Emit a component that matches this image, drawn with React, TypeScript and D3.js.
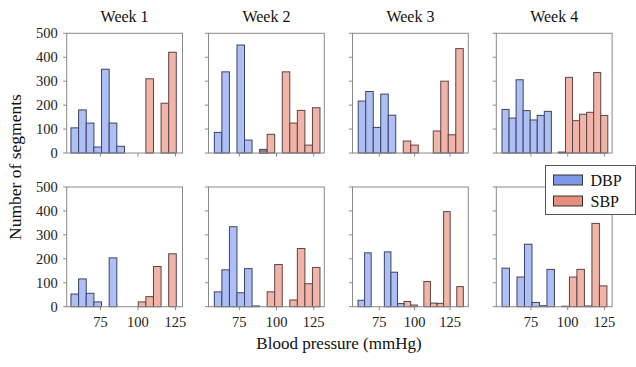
import React from 'react';
import * as d3 from 'd3';

// panel order: row-major, top row then bottom row, Week 1..4
const weeks = ["Week 1", "Week 2", "Week 3", "Week 4"];
const yTicks = [0, 100, 200, 300, 400, 500];
const xTicks = [75, 100, 125];
const xDomains = [[52.5, 129.7], [54.3, 132.1], [56.1, 137.9], [51.4, 130.2]];

const dbpStart = [55.33, 58.22, 60.15, 55.27, 55.33, 58.22, 60.0, 55.27];
const dbpWidth = [5.1, 5.07, 5.3, 4.8, 5.1, 5.07, 4.65, 5.1];
const dbpCounts = [
  [105, 180, 125, 25, 350, 125, 28],
  [86, 339, 0, 451, 54, 0, 15],
  [217, 257, 107, 246, 158],
  [182, 146, 306, 177, 138, 157, 174],
  [53, 116, 56, 20, 0, 204],
  [62, 154, 334, 58, 159, 3],
  [27, 225, 0, 0, 229, 144, 13],
  [161, 0, 124, 261, 18, 4, 156],
];

const sbpStart = [100.2, 88.64, 91.95, 93.67, 100.2, 88.64, 92.55, 96.07];
const sbpWidth = [5.07, 5.07, 5.3, 4.8, 5.07, 5.07, 4.65, 5.1];
const sbpCounts = [
  [0, 310, 0, 208, 421],
  [8, 78, 0, 339, 125, 178, 33, 189],
  [50, 33, 0, 0, 92, 300, 76, 436],
  [4, 316, 135, 162, 170, 336, 157],
  [20, 42, 168, 0, 221],
  [0, 62, 176, 0, 28, 243, 96, 164],
  [22, 7, 0, 105, 15, 14, 397, 0, 84],
  [2, 124, 156, 3, 348, 87],
];

const series = [
  { name: "DBP", fill: "#adbff4", edge: "#3d4463", swatch: "#7f98e6" },
  { name: "SBP", fill: "#f2b3a8", edge: "#5a4645", swatch: "#e88e7e" },
];

const font = "'Liberation Serif', 'DejaVu Serif', serif";
const colLeft = [66.7, 208.5, 352.5, 496.3];
const panelW = 115.8;
const rowTop = [33.3, 187];
const panelH = 119.7;

function Panel({ idx }: { idx: number }) {
  const row = Math.floor(idx / 4);
  const col = idx % 4;
  const x0 = colLeft[col];
  const y0 = rowTop[row];
  const x = d3.scaleLinear().domain(xDomains[col]).range([0, panelW]);
  const y = d3.scaleLinear().domain([0, 500]).range([panelH, 0]);

  const bars = (start: number, w: number, counts: number[], s: typeof series[0], key: string) =>
    counts.map((c, i) => {
      if (!c) return null;
      const a = start + i * w;
      return (
        <rect key={key + i} x={x(a)} y={y(c)} width={x(a + w) - x(a)} height={y(0) - y(c)}
          fill={s.fill} stroke={s.edge} strokeWidth={1} />
      );
    });

  return (
    <g transform={`translate(${x0},${y0})`}>
      {bars(dbpStart[idx], dbpWidth[idx], dbpCounts[idx], series[0], "d")}
      {bars(sbpStart[idx], sbpWidth[idx], sbpCounts[idx], series[1], "s")}
      <rect x={0} y={0} width={panelW} height={panelH} fill="none" stroke="#8a8a8a" strokeWidth={1} />
      {yTicks.map(t => (
        <g key={t}>
          <line x1={-3.5} x2={0} y1={y(t)} y2={y(t)} stroke="#8a8a8a" />
          {col === 0 && (
            <text x={-9} y={y(t) + 5} textAnchor="end" fontSize={14.5} fontFamily={font} fill="#222">{t}</text>
          )}
        </g>
      ))}
      {xTicks.map(t => (
        <g key={t}>
          <line x1={x(t)} x2={x(t)} y1={panelH} y2={panelH + 3.5} stroke="#8a8a8a" />
          {row === 1 && (
            <text x={x(t)} y={panelH + 19.8} textAnchor="middle" fontSize={14.5} fontFamily={font} fill="#222">{t}</text>
          )}
        </g>
      ))}
      {row === 0 && (
        <text x={panelW / 2} y={-11.5} textAnchor="middle" fontSize={16} fontFamily={font} fill="#111">{weeks[col]}</text>
      )}
    </g>
  );
}

export default function App() {
  return (
    <svg width={636} height={367} style={{ position: 'absolute', left: 0, top: 0, background: '#fff' }}>
      {d3.range(8).map(i => <Panel key={i} idx={i} />)}
      <text transform="translate(20.5,167) rotate(-90)" textAnchor="middle" fontSize={17.5} fontFamily={font} fill="#111">
        Number of segments
      </text>
      <text x={339} y={348.5} textAnchor="middle" fontSize={17} fontFamily={font} fill="#111">
        Blood pressure (mmHg)
      </text>
      <g transform="translate(545.5,165.5)">
        <rect x={0} y={0} width={90} height={49} fill="#fff" stroke="#555" strokeWidth={1} />
        {series.map((s, i) => (
          <g key={s.name} transform={`translate(0,${i * 21})`}>
            <rect x={8} y={9.5} width={29} height={10} fill={s.swatch} stroke="#333" strokeWidth={1} />
            <text x={45} y={20} fontSize={16} fontFamily={font} fill="#111">{s.name}</text>
          </g>
        ))}
      </g>
    </svg>
  );
}
